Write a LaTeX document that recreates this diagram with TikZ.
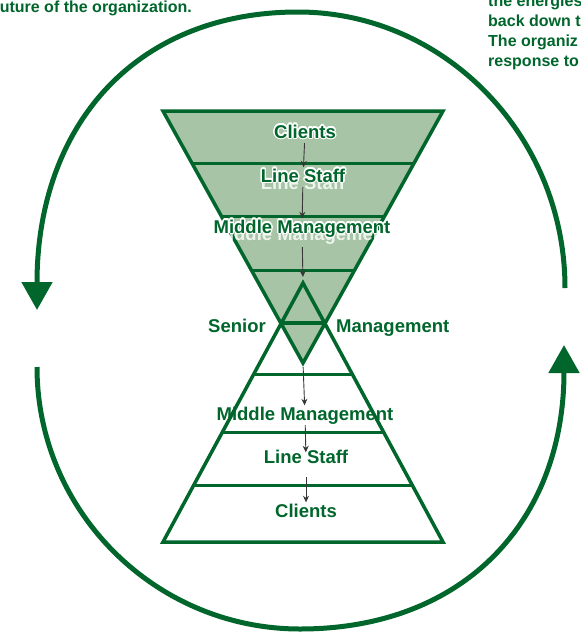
\documentclass[tikz,border=0pt]{standalone}
\usepackage{fontspec}
\setmainfont{Liberation Sans}
\usepackage{contour}
\usetikzlibrary{arrows.meta}
\definecolor{leafgreen}{RGB}{0,102,44}
\definecolor{palegreen}{RGB}{168,196,166}
\definecolor{arrowgray}{RGB}{55,55,55}
\contourlength{1.3pt}

\begin{document}
\begin{tikzpicture}[x=1pt,y=-1pt,
    tier/.style={draw=leafgreen, line width=3.5pt, line join=miter},
    rung/.style={leafgreen, line width=3pt},
    tierlabel/.style={font=\fontsize{18.5}{22}\selectfont\bfseries, text=leafgreen,
        inner sep=1pt, text height=13.5pt, text depth=4pt, anchor=base},
    ghost/.style={tierlabel, text=white},
    flow/.style={arrowgray, line width=0.9pt, -{Stealth[length=6.5pt,width=6pt]}},
    turn/.style={leafgreen, line width=5pt, -{Triangle[width=30pt,length=28pt]}},
    note/.style={font=\fontsize{16}{19.5}\selectfont\bfseries, text=leafgreen, inner sep=0pt}]
    \fill[white] (0,0) rectangle (581,633);
    \useasboundingbox (0,0) rectangle (581,633);

    % upside-down funnel (filled)
    \filldraw[tier, fill=palegreen] (163,111) -- (443,111) -- (303,363) -- cycle;
    \draw[rung] (191.9,163) -- (414.1,163);
    \draw[rung] (221.3,216) -- (384.7,216);
    \draw[rung] (251.3,270) -- (354.7,270);
    \draw[rung] (280.2,322) -- (325.8,322);

    % upright pyramid (open)
    \draw[tier] (303,283) -- (443,542) -- (163,542) -- cycle;
    \draw[rung] (281.4,323) -- (324.6,323);
    \draw[rung] (253.8,374) -- (352.2,374);
    \draw[rung] (222.5,432) -- (383.5,432);
    \draw[rung] (193.8,485) -- (412.2,485);

    \coordinate (upapex) at (303,283);
    \coordinate (downapex) at (303,363);

    % white shadows under the upper labels
    \node[ghost, opacity=0.8] at (303,189) {Line Staff};
    \node[ghost, opacity=0.8] at (302,240) {Middle Management};

    % labels, top half
    \node[tierlabel] (clientstop) at (305,138) {\contour{white}{Clients}};
    \node[tierlabel] (stafftop) at (303,182) {\contour{white}{Line Staff}};
    \node[tierlabel] (middletop) at (302,233) {\contour{white}{Middle Management}};

    % labels, bottom half
    \node[tierlabel] (middlelow) at (305,420) {Middle Management};
    \node[tierlabel] (stafflow) at (306,463) {Line Staff};
    \node[tierlabel] (clientslow) at (306,517) {Clients};

    \node[tierlabel, anchor=base east] (senior) at (267,332) {Senior};
    \node[tierlabel, anchor=base west] (mgmt) at (335,332) {Management};

    % flow down through the levels
    \draw[flow] (clientstop) -- (stafftop);
    \draw[flow] (stafftop) -- (middletop);
    \draw[flow, shorten <=9pt, shorten >=6pt] (middletop) -- (upapex);
    \draw[flow, shorten <=4pt] (downapex) -- (middlelow);
    \draw[flow, shorten >=-4pt] (middlelow) -- (stafflow);
    \draw[flow, shorten <=9pt] (stafflow) -- (clientslow);

    % the loop round the outside
    \draw[turn] (565,288) .. controls (565,136) and (445,12) .. (298,12)
        .. controls (136,12) and (37,125) .. (37,310);
    \draw[turn] (37,367) .. controls (37,511) and (155,629) .. (300,629)
        .. controls (464,629) and (564,521) .. (564,345);

    % side notes, cut by the page edge
    \node[note, anchor=base east] (lefttext) at (192,12.5) {uture of the organization.};
    \node[note, anchor=base west] (right1) at (488,6) {the energies};
    \node[note, anchor=base west] (right2) at (488,26) {back down t};
    \node[note, anchor=base west] (right3) at (488,46) {The organiz};
    \node[note, anchor=base west] (right4) at (488,66) {response to};
\end{tikzpicture}
\end{document}
